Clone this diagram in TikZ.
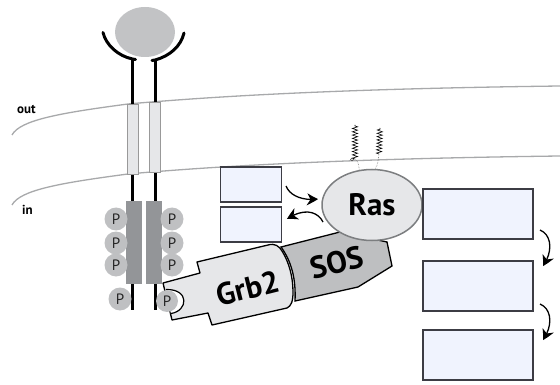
\documentclass[tikz,border=0pt]{standalone}
\usepackage{fontspec}
\setmainfont{Open Sans}
\newfontfamily\heavyfont{PT Sans}
\usetikzlibrary{arrows.meta,decorations.pathmorphing,bending,shapes.geometric}
\definecolor{membrane}{HTML}{A8A9AB}
\definecolor{tmfill}{HTML}{E6E7E9}
\definecolor{kinase}{HTML}{939598}
\definecolor{ligand}{HTML}{C2C3C5}
\definecolor{sosfill}{HTML}{BEBFC1}
\definecolor{pfill}{HTML}{BFC0C2}
\definecolor{boxfill}{HTML}{F0F3FE}
\definecolor{boxedge}{HTML}{3C3C44}
\definecolor{rasedge}{HTML}{7C7E80}
\tikzset{
  membraneline/.style={draw=membrane,line width=1.3pt},
  chain/.style={draw=black,line width=3pt},
  arm/.style={draw=black,line width=3pt,line cap=round},
  tmbox/.style={draw=gray!80,fill=tmfill,line width=0.7pt,minimum width=11pt,minimum height=70pt,inner sep=0pt},
  kinasebox/.style={fill=kinase,minimum width=16.3pt,minimum height=83pt,inner sep=0pt},
  pcircle/.style={circle,fill=pfill,minimum size=23pt,inner sep=0pt,font=\heavyfont\fontsize{15}{15}\selectfont,text=black!85},
  smallbox/.style={draw=boxedge,fill=boxfill,line width=1.4pt,minimum width=61pt,minimum height=35pt,inner sep=0pt},
  bigbox/.style={draw=boxedge,fill=boxfill,line width=1.4pt,minimum width=110pt,minimum height=50pt,inner sep=0pt},
  flow/.style={draw=black,line width=1.3pt,-{Stealth[length=11pt,width=12pt,inset=3.5pt,bend]}},
  biglabel/.style={font=\heavyfont\bfseries\fontsize{31}{31}\selectfont,inner sep=0pt},
  sidelabel/.style={font=\heavyfont\bfseries\fontsize{13}{13}\selectfont,inner sep=0pt},
  lipid/.style={draw=black,line width=0.6pt,decoration={zigzag,amplitude=2.6pt,segment length=3.3pt},decorate},
  lipidstem/.style={draw=gray,line width=0.6pt,densely dotted}
}
\begin{document}
\begin{tikzpicture}[x=1pt,y=-1pt]
\useasboundingbox (0,0) rectangle (560,385);

% membrane leaflets
\draw[membraneline] (12,135) .. controls (20,120) and (60,113) .. (128,104) .. controls (250,93) and (400,88) .. (560,86);
\draw[membraneline] (12,205) .. controls (20,190) and (60,183) .. (128,174) .. controls (250,163) and (400,158) .. (560,156);

% receptor chains
\coordinate (leftTop) at (132.5,59);
\coordinate (rightTop) at (155,60);
\coordinate (leftFoot) at (132,310);
\coordinate (rightFoot) at (155,310);
\node[kinasebox] (kinL) at (134.2,242.5) {};
\node[kinasebox] (kinR) at (154.2,242.5) {};
\draw[chain] (leftTop) -- (132.5,104);
\draw[chain] (rightTop) -- (155,102);
\draw[chain] (132.5,174) -- (132.5,201);
\draw[chain] (155,172) -- (155,201);
\draw[chain] (132,284) -- (leftFoot);
\draw[chain] (155,284) -- (rightFoot);
\node[tmbox] (tmL) at (132.5,139) {};
\node[tmbox] (tmR) at (155,137) {};

% ligand and the extracellular arms
\node[ellipse,fill=ligand,minimum width=60pt,minimum height=50pt,inner sep=0pt] (ligandBall) at (145,32) {};
\draw[arm] (103,32.5) .. controls (106,45) and (118,56) .. (leftTop) -- ++(3,0.5);
\draw[arm] (184,33) .. controls (181,46) and (170,56) .. (rightTop) -- ++(-3,0.5);

% phosphotyrosines on the kinase domains
\node[pcircle] (p1) at (116,219) {P};
\node[pcircle] (p2) at (116,243) {P};
\node[pcircle] (p3) at (116,265) {P};
\node[pcircle] (p4) at (172,219) {P};
\node[pcircle] (p5) at (172,243) {P};
\node[pcircle] (p6) at (172,265) {P};
\node[pcircle] (p7) at (120,299) {P};

% SOS
\draw[fill=sosfill,draw=black,line width=1.3pt] (281,247) -- (340,232) -- (387,242) -- (392,266) -- (358,287) -- (295,301) .. controls (296,280) and (292,262) .. cycle;
% Grb2
\draw[fill=tmfill,draw=black,line width=1.3pt,line join=round]
  (163,283) -- (200,273) -- (197,262) -- (268,245)
  .. controls (275,243) and (279,246) .. (282,251)
  .. controls (289,262) and (293,277) .. (293,292)
  .. controls (293,302) and (291,306) .. (287,308)
  -- (212,325) -- (208,313) -- (172,320) -- cycle;
% pocket of the SH2 domain holding the phosphotyrosine
\fill[white] (166,289.5) .. controls (190,289) and (188,311) .. (171,313.5) -- cycle;
\draw[black,line width=1.2pt] (166,289.5) .. controls (190,289) and (188,311) .. (171,313.5);
\node[pcircle,minimum size=22pt] (p8) at (167,301) {P};
\node[biglabel,rotate=14] (grb) at (248,288) {Grb2};
\node[biglabel,rotate=14] (sos) at (337,262) {SOS};

% Ras with its lipid anchors
\node[ellipse,draw=rasedge,fill=tmfill,line width=1.5pt,minimum width=100pt,minimum height=71pt,inner sep=0pt,biglabel] (ras) at (372,205) {Ras};
\coordinate (lipA) at (355,159);
\coordinate (lipB) at (379,154);
\draw[lipid] (lipA) -- (355,125);
\draw[lipid] (lipB) -- (380,128);
\draw[draw=black!70,line width=0.5pt] (352,159.5) circle[radius=1.5];
\draw[lipidstem] (lipA) .. controls (358,161) and (359,165) .. (ras.110);
\draw[lipidstem] (lipB) .. controls (378,160) and (378,165) .. (ras.85);

% effector boxes
\node[smallbox] (s1) at (251,184.5) {};
\node[smallbox] (s2) at (251,224.5) {};
\node[bigbox] (b1) at (478,214) {};
\node[bigbox] (b2) at (478,286) {};
\node[bigbox] (b3) at (478,355) {};

% exchange arrows and the cascade
\coordinate (s1out) at (286,186);
\coordinate (rasin) at (318,199);
\coordinate (rasout) at (323,222);
\coordinate (s2in) at (287,219);
\coordinate (c1a) at (540,230);
\coordinate (c1b) at (543,266);
\coordinate (c2a) at (540,304);
\coordinate (c2b) at (543,340);
\draw[flow] (s1out) .. controls (290,196) and (303,201) .. (rasin);
\draw[flow] (rasout) .. controls (318,212) and (305,207) .. (s2in);
\draw[flow] (c1a) .. controls (552,235) and (553,252) .. (c1b);
\draw[flow] (c2a) .. controls (552,309) and (553,326) .. (c2b);

% side labels
\node[sidelabel,anchor=west] (outlabel) at (17,109) {out};
\node[sidelabel,anchor=west] (inlabel) at (22,210) {in};
\end{tikzpicture}
\end{document}
